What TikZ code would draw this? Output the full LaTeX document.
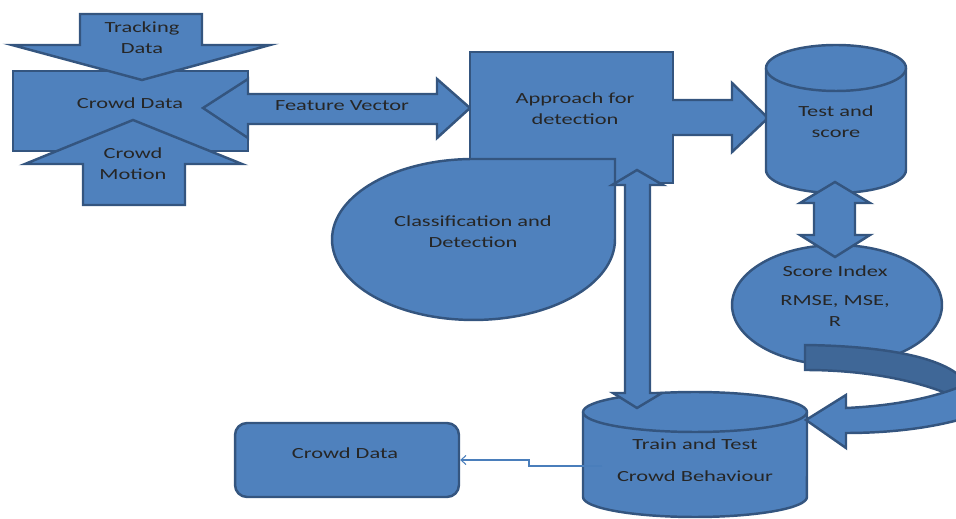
\documentclass[tikz,border=0pt]{standalone}
\usepackage{fontspec}
\setmainfont{Carlito}[FakeStretch=1.45]
\definecolor{blockblue}{HTML}{4F81BD}
\definecolor{blockedge}{HTML}{34557F}
\definecolor{blockshade}{HTML}{3F6797}
\definecolor{linkblue}{HTML}{4A7EBB}
\usetikzlibrary{arrows.meta,shapes.geometric}

\begin{document}
\begin{tikzpicture}[x=0.02cm,y=0.02cm,font=\fontsize{8.8}{11.9}\selectfont]
        \tikzset{
            block/.style={
                fill=blockblue,
                draw=blockedge,
                line width=1.4pt,
                line join=miter
            },
            blockbox/.style={block,rectangle,inner sep=0pt},
            blockshadeface/.style={block,fill=blockshade},
            caption/.style={align=center,inner sep=0pt,text=black!85},
            thinlink/.style={
                -{Straight Barb[length=1mm,width=1.8mm]},
                draw=linkblue,
                line width=0.6pt
            }
        }
        \useasboundingbox (0,0) rectangle (956,-519);

        \node[blockbox,minimum width=4.7cm,minimum height=1.6cm] (crowdrect) at (130.5,-111) {};
        \draw[block] (80,-14) -- (202,-14) -- (202,-45) -- (270,-45) -- (142,-80)
            -- (12,-45) -- (80,-45) -- cycle;
        \draw[block] (83,-205) -- (185,-205) -- (185,-164) -- (242,-164) -- (133,-120)
            -- (25,-164) -- (83,-164) -- cycle;
        \draw[block] (203,-108) -- (248,-79) -- (248,-94) -- (437,-94) -- (437,-79)
            -- (470,-108) -- (437,-138) -- (437,-124) -- (248,-124) -- (248,-138) -- cycle;

        \node[blockbox,minimum width=4.06cm,minimum height=2.62cm] (approach) at (571.5,-117.5) {};
        \filldraw[block] (672,-100) -- (732,-100) -- (732,-83) -- (768,-118)
            -- (732,-152) -- (732,-135) -- (672,-135);
        \draw[block] (615,-159) -- (473.5,-159)
            arc[start angle=90,end angle=360,x radius=2.83cm,y radius=1.61cm] -- cycle;

        \draw[block] (766,-68) -- (766,-170)
            arc[start angle=180,end angle=360,x radius=1.4cm,y radius=0.46cm]
            -- (906,-68) arc[start angle=0,end angle=180,x radius=1.4cm,y radius=0.46cm] -- cycle;
        \draw[block] (766,-68) arc[start angle=180,end angle=360,x radius=1.4cm,y radius=0.46cm];

        \node[block,ellipse,minimum width=4.2cm,minimum height=2.4cm,inner sep=0pt] (scoreindex) at (837,-305) {};
        \draw[block] (835,-182) -- (870,-203) -- (855,-203) -- (855,-235) -- (870,-235)
            -- (835,-257) -- (800,-235) -- (814,-235) -- (814,-203) -- (800,-203) -- cycle;

        \draw[block] (583,-412) -- (583,-497)
            arc[start angle=180,end angle=360,x radius=2.24cm,y radius=0.4cm]
            -- (807,-412) arc[start angle=0,end angle=180,x radius=2.24cm,y radius=0.4cm] -- cycle;
        \draw[block] (583,-412) arc[start angle=180,end angle=360,x radius=2.24cm,y radius=0.4cm];
        \draw[block] (637,-170) -- (663,-185) -- (650,-185) -- (650,-393) -- (662,-393)
            -- (637,-408) -- (613,-393) -- (625,-393) -- (625,-185) -- (612,-185) -- cycle;

        \draw[blockshadeface] (805,-345) .. controls (880,-346) and (940,-356) .. (962,-378)
            -- (962,-400) .. controls (925,-382) and (870,-370) .. (805,-370) -- cycle;
        \draw[block] (846,-408) .. controls (890,-406) and (930,-399) .. (962,-386)
            -- (962,-419) .. controls (930,-428) and (890,-433) .. (846,-433)
            -- (846,-448) -- (806,-420) -- (846,-395) -- cycle;

        \node[blockbox,rounded corners=0.24cm,minimum width=4.48cm,minimum height=1.48cm] (crowdbox) at (347,-460) {};
        \coordinate (trainlink) at (602,-466);
        \draw[thinlink] (trainlink) -- ++(-73,0) |- (crowdbox.east);

        \node[caption] (trackingtext) at (142,-38) {Tracking\\Data};
        \node[caption] (crowdtext) at (130,-103) {Crowd Data};
        \node[caption] (motiontext) at (133,-164) {Crowd\\Motion};
        \node[caption] (featuretext) at (342,-106) {Feature Vector};
        \node[caption] (approachtext) at (575,-109) {Approach for\\detection};
        \node[caption] (testtext) at (836,-122) {Test and\\score};
        \node[caption] (classtext) at (473,-232) {Classification and\\Detection};
        \node[caption] (scoretext) at (835,-296) {Score Index\\[5pt]RMSE, MSE,\\R};
        \node[caption] (traintext) at (695,-460) {Train and Test\\[6pt]Crowd Behaviour};
        \node[caption] (crowdboxtext) at (345,-453) {Crowd Data};
    \end{tikzpicture}
\end{document}
